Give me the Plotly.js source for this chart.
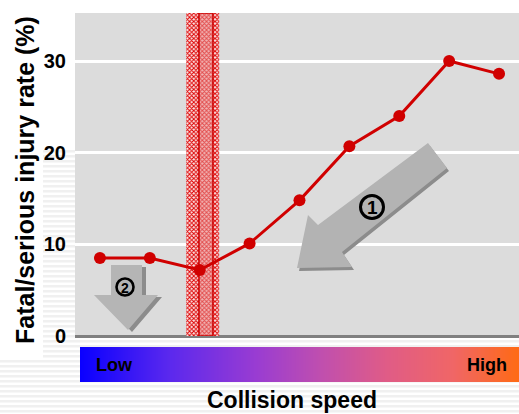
<!DOCTYPE html>
<html>
<head>
<meta charset="utf-8">
<script src="https://cdn.plot.ly/plotly-3.0.1.min.js"></script>
<style>html,body{margin:0;padding:0;background:#fff;}#chart{width:519px;height:414px;}</style>
</head>
<body>
<div id="chart"></div>
<script>
// ---- data ----
var speedLevel = [0, 1, 2, 3, 4, 5, 6, 7, 8];
var injuryRate = [8.5, 8.5, 7.2, 10.1, 14.8, 20.7, 24.0, 30.0, 28.6];
var yTicks = [0, 10, 20, 30];
var yTickText = ['0', '10', '20', '30'];
var highlightLevel = [2.06];
var highlightInner = [2.125];
var gradientStops = [0, 1];
var speedLabels = ['Low', 'High'];
var arrowLabels = ['1', '2'];

// ---- geometry helpers (pixel -> paper) ----
var L = 75, T = 13, W = 444, H = 371;
function px(x) { return (x - L) / W; }
function py(y) { return (T + H - y) / H; }
function path(pts, dx, dy) {
  dx = dx || 0; dy = dy || 0;
  return pts.map(function (p, i) {
    return (i ? 'L' : 'M') + px(p[0] + dx).toFixed(5) + ',' + py(p[1] + dy).toFixed(5);
  }).join(' ') + ' Z';
}

var arrow1 = [[428,143],[447,168],[342,252],[352,267],[297,268],[308,215],[318,225]];
var arrow2 = [[111,265],[142,265],[142,295],[158,295],[128,330],[94,295],[111,295]];

var shapes = [];
// striped light background
for (var y = 150; y < 414; y += 5) {
  shapes.push({type:'rect', xref:'paper', yref:'paper', layer:'below',
    x0: px(0), x1: px(519), y0: py(y), y1: py(y + 2.5),
    fillcolor:'#f0f0f0', line:{width:0}});
}
// white box behind y title
shapes.push({type:'rect', xref:'paper', yref:'paper', layer:'below',
  x0: px(0), x1: px(43), y0: py(359), y1: py(0), fillcolor:'#ffffff', line:{width:0}});
// gray plot background
shapes.push({type:'rect', xref:'x', yref:'y', layer:'below',
  x0: -0.5, x1: 8.4, y0: 0, y1: 35.24, fillcolor:'#dcdcdc', line:{width:0}});
// arrows (shadow then body)
shapes.push({type:'path', xref:'paper', yref:'paper', layer:'above',
  path: path(arrow1, 2, 3), fillcolor:'#8c8c8c', line:{width:0}});
shapes.push({type:'path', xref:'paper', yref:'paper', layer:'above',
  path: path(arrow1), fillcolor:'#b3b3b3', line:{width:0}});
shapes.push({type:'path', xref:'paper', yref:'paper', layer:'above',
  path: path(arrow2, 4, 2), fillcolor:'#8c8c8c', line:{width:0}});
shapes.push({type:'path', xref:'paper', yref:'paper', layer:'above',
  path: path(arrow2), fillcolor:'#b5b5b5', line:{width:0}});
// circled-number rings
function ring(cx, cy, r, w) {
  shapes.push({type:'circle', xref:'paper', yref:'paper', layer:'above',
    x0: px(cx - r), x1: px(cx + r), y0: py(cy + r), y1: py(cy - r),
    fillcolor:'rgba(0,0,0,0)', line:{color:'#000', width:w}});
}
ring(372, 207, 11.5, 3);
ring(125, 287, 8.5, 2.6);

var traces = [
  {type:'bar', x: highlightLevel, y:[35.24], width:[0.66], xaxis:'x', yaxis:'y',
   marker:{color:'#f2b0b0', line:{width:0},
     pattern:{shape:'x', fgcolor:'#dd0000', bgcolor:'#fbe6e6', size:3, solidity:0.55}},
   hoverinfo:'skip', showlegend:false},
  {type:'bar', x: highlightInner, y:[35.24], width:[0.28], xaxis:'x', yaxis:'y',
   marker:{color:'rgba(232,140,140,0.55)', line:{width:1.5, color:'#cc0000'}},
   hoverinfo:'skip', showlegend:false},
  {type:'scatter', mode:'lines+markers', x: speedLevel, y: injuryRate, xaxis:'x', yaxis:'y',
   line:{color:'#d00000', width:3}, marker:{color:'#d00000', size:12},
   showlegend:false},
  {type:'heatmap', x: gradientStops, y:[0], z:[gradientStops], xaxis:'x2', yaxis:'y2',
   zsmooth:'best', showscale:false, hoverinfo:'skip',
   colorscale:[[0,'#0a00ff'],[0.2,'#5a28ee'],[0.4,'#993cd2'],[0.55,'#c04fae'],
               [0.7,'#e05c86'],[0.85,'#f06666'],[1,'#ff6a14']]}
];

var layout = {
  width:519, height:414,
  margin:{l:L, r:0, t:T, b:414 - T - H, pad:0},
  paper_bgcolor:'#ffffff', plot_bgcolor:'rgba(0,0,0,0)',
  barmode:'overlay',
  font:{family:'Liberation Sans, Arial, sans-serif', color:'#000'},
  xaxis:{domain:[0,1], anchor:'y', range:[-0.5, 8.4], showgrid:false, zeroline:false,
         showticklabels:false, ticks:'', showline:false, fixedrange:true},
  yaxis:{domain:[py(336), 1], anchor:'x', range:[0, 35.24], tickvals:yTicks, ticktext:yTickText,
         showgrid:true, gridcolor:'#ffffff', gridwidth:3,
         zeroline:true, zerolinecolor:'#808080', zerolinewidth:3,
         ticks:'', ticklabelstandoff:8,
         tickfont:{size:20, family:'Liberation Sans, Arial, sans-serif', weight:'bold', color:'#000'},
         showline:false, fixedrange:true},
  xaxis2:{domain:[px(80), 1], anchor:'y2', range:[0,1], visible:false, fixedrange:true},
  yaxis2:{domain:[py(382), py(347)], anchor:'x2', range:[-0.5,0.5], visible:false, fixedrange:true},
  shapes: shapes,
  annotations:[
    {xref:'paper', yref:'paper', x:px(25), y:py(180), text:'Fatal/serious injury rate (%)',
     textangle:-90, showarrow:false, xanchor:'center', yanchor:'middle',
     font:{size:25, weight:'bold', color:'#000'}},
    {xref:'paper', yref:'paper', x:px(292), y:py(400), text:'Collision speed',
     showarrow:false, xanchor:'center', yanchor:'middle',
     font:{size:23, weight:'bold', color:'#000'}},
    {xref:'paper', yref:'paper', x:px(94), y:py(365), text:speedLabels[0],
     showarrow:false, xanchor:'left', yanchor:'middle',
     font:{size:18, weight:'bold', color:'#000'}},
    {xref:'paper', yref:'paper', x:px(509), y:py(365), text:speedLabels[1],
     showarrow:false, xanchor:'right', yanchor:'middle',
     font:{size:18, weight:'bold', color:'#000'}},
    {xref:'paper', yref:'paper', x:px(372), y:py(207.5), text:arrowLabels[0],
     showarrow:false, xanchor:'center', yanchor:'middle',
     font:{size:19, weight:'bold', color:'#000'}},
    {xref:'paper', yref:'paper', x:px(125), y:py(287.5), text:arrowLabels[1],
     showarrow:false, xanchor:'center', yanchor:'middle',
     font:{size:14, weight:'bold', color:'#000'}}
  ]
};

Plotly.newPlot('chart', traces, layout, {displayModeBar:false, staticPlot:true});
</script>
</body>
</html>
